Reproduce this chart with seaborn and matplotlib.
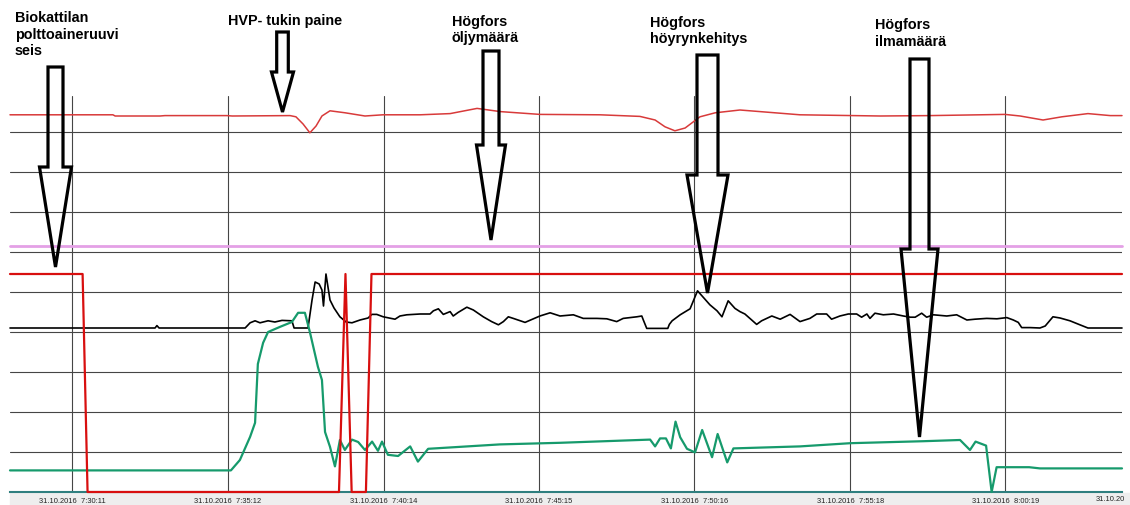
import numpy as np
import pandas as pd
import seaborn as sns
import matplotlib.pyplot as plt
from matplotlib.patches import FancyArrow, Rectangle

DAY = "2016-10-31"

# x: minutes after 07:30:00, y: trend grid divisions (0 = bottom, 9.9 = top)
paine_t = [-1.835, 1.49, 1.56, 3.01, 3.17, 5.17, 5.34, 7.21, 7.40, 7.63, 7.85, 8.05, 8.24,
           8.50, 8.99, 9.63, 10.21, 11.41, 12.38, 13.25, 14.0, 15.28, 17.22, 18.51, 19.0,
           19.32, 19.64, 19.97, 20.45, 20.94, 21.74, 22.71, 23.68, 26.27, 27.88, 30.30,
           30.79, 31.53, 32.14, 32.98, 33.70, 34.08]
paine_v = [9.43, 9.43, 9.40, 9.40, 9.41, 9.41, 9.40, 9.41, 9.38, 9.20, 8.98, 9.15, 9.40,
           9.53, 9.48, 9.40, 9.43, 9.43, 9.46, 9.59, 9.51, 9.44, 9.43, 9.39, 9.30,
           9.13, 9.03, 9.10, 9.38, 9.48, 9.55, 9.49, 9.43, 9.40, 9.41, 9.44,
           9.40, 9.30, 9.38, 9.46, 9.41, 9.41]

oljy_t = [-1.835, 34.08]
oljy_v = [6.14, 6.14]

ruuvi_t = [-1.835, 0.51, 0.67, 8.79, 9.00, 9.20, 9.66, 9.84, 34.08]
ruuvi_v = [5.45, 5.45, 0, 0, 5.45, 0, 0, 5.45, 5.45]

hoyry_t = [-1.835, 2.85, 2.91, 2.98, 5.76, 5.92, 6.08, 6.24, 6.50, 6.72, 6.95, 7.27, 7.34,
           7.79, 7.92, 8.02, 8.15, 8.24, 8.29, 8.37, 8.50, 8.63, 8.82, 9.02, 9.21, 9.47, 9.73,
           9.85, 10.01, 10.22, 10.60, 10.76, 10.98, 11.41, 11.73, 11.84, 12.00,
           12.16, 12.38, 12.48, 12.64, 12.92, 13.13, 13.45, 13.72, 13.94, 14.10,
           14.26, 14.42, 14.80, 15.07, 15.28, 15.61, 15.93, 16.36, 16.68, 17.12,
           17.44, 17.76, 17.97, 18.41, 18.57, 18.62, 18.73, 19.41, 19.46,
           19.55, 19.81, 20.13, 20.37, 20.77, 21.00, 21.16, 21.36,
           21.58, 21.74, 21.90, 22.12, 22.28, 22.44, 22.77, 23.04, 23.36, 23.68,
           24.00, 24.22, 24.54, 24.70, 24.97, 25.24, 25.51, 25.67, 25.84, 25.94,
           26.10, 26.37, 26.70, 27.02, 27.24, 27.40, 27.61, 27.77, 27.99, 28.42,
           28.74, 29.07, 29.33, 29.71, 30.04, 30.36, 30.57, 30.73, 30.84, 31.11,
           31.43, 31.60, 31.85, 32.08, 32.40, 32.72, 32.98, 34.08]
hoyry_v = [4.10, 4.10, 4.16, 4.10, 4.10, 4.23, 4.28, 4.23, 4.28, 4.25, 4.29, 4.28, 4.10,
           4.10, 4.80, 5.25, 5.20, 5.05, 4.65, 5.45, 4.80, 4.60, 4.38, 4.25, 4.23, 4.30, 4.35,
           4.44, 4.44, 4.38, 4.32, 4.40, 4.43, 4.45, 4.45, 4.53, 4.58,
           4.44, 4.51, 4.40, 4.49, 4.62, 4.55, 4.38, 4.26, 4.18, 4.26,
           4.38, 4.34, 4.24, 4.33, 4.40, 4.48, 4.40, 4.43, 4.34, 4.34,
           4.33, 4.26, 4.34, 4.38, 4.40, 4.30, 4.09, 4.09, 4.19,
           4.28, 4.43, 4.58, 5.03, 4.68, 4.53, 4.38, 4.78,
           4.59, 4.51, 4.45, 4.30, 4.19, 4.28, 4.40, 4.32, 4.44, 4.26,
           4.34, 4.45, 4.45, 4.32, 4.40, 4.45, 4.45, 4.37, 4.45, 4.34,
           4.47, 4.43, 4.45, 4.40, 4.37, 4.37, 4.47, 4.37, 4.43, 4.40,
           4.43, 4.30, 4.32, 4.34, 4.33, 4.36, 4.30, 4.24, 4.11, 4.11,
           4.10, 4.15, 4.38, 4.35, 4.28, 4.18, 4.10, 4.10]

ilma_t = [-1.835, 5.30, 5.59, 5.92, 6.08, 6.17, 6.34, 6.50, 6.89, 7.27, 7.47, 7.69, 7.85,
          8.11, 8.24, 8.34, 8.50, 8.66, 8.82, 8.98, 9.21, 9.41, 9.63, 9.86, 10.05, 10.18,
          10.37, 10.70, 11.09, 11.34, 11.67, 13.99, 15.93, 18.84, 19.00, 19.16, 19.35,
          19.51, 19.66, 19.81, 20.03, 20.29, 20.52, 20.84, 21.02, 21.33, 21.53, 23.68,
          25.30, 27.67, 28.85, 29.17, 29.35, 29.69, 29.87, 30.03, 31.08, 31.43, 34.08]
ilma_v = [0.54, 0.54, 0.80, 1.38, 1.73, 3.20, 3.73, 4.00, 4.13, 4.25, 4.48, 4.48, 4.00,
          3.13, 2.80, 1.50, 1.13, 0.64, 1.30, 1.05, 1.31, 1.25, 1.05, 1.26, 1.03, 1.26,
          0.93, 0.90, 1.14, 0.76, 1.08, 1.19, 1.23, 1.31, 1.14, 1.34, 1.34,
          1.09, 1.76, 1.37, 1.08, 0.99, 1.55, 0.87, 1.45, 0.74, 1.09, 1.14,
          1.22, 1.27, 1.30, 1.05, 1.26, 1.16, 0.0, 0.62, 0.62, 0.59, 0.59]

tick_times = ["07:30:11", "07:35:12", "07:40:14", "07:45:15", "07:50:16", "07:55:18", "08:00:19"]
last_label = "31.10.20"   # next label, cut at the window edge
x_start, x_end = -1.835, 34.08

notes = ["Biokattilan\npolttoaineruuvi\nseis", "HVP- tukin paine",
         "Högfors\nöljymäärä", "Högfors\nhöyrynkehitys", "Högfors\nilmamäärä"]


def to_time(minutes):
    return pd.Timestamp(f"{DAY} 07:30:00") + pd.to_timedelta(minutes, unit="min")


def trend(ax, t, v, color, lw):
    df = pd.DataFrame({"aika": to_time(np.asarray(t, dtype=float)), "arvo": v})
    sns.lineplot(data=df, x="aika", y="arvo", ax=ax, color=color, lw=lw,
                 estimator=None, sort=False, clip_on=False, zorder=3)


sns.set_style("white")
plt.rcParams["font.family"] = ["Liberation Sans", "DejaVu Sans"]

fig = plt.figure(figsize=(11.3, 5.05), dpi=100)
W, H = 1130, 505

# grey band under the time axis
fig.patches.append(Rectangle((10 / W, 0), 1 - 10 / W, 12 / H, transform=fig.transFigure,
                             color="#eeeeee", zorder=-1))

ax = fig.add_axes([10 / W, 13 / H, 1112 / W, 396 / H])
trend(ax, oljy_t, oljy_v, "#e4a0e6", 2.0)
trend(ax, paine_t, paine_v, "#d83a3a", 1.1)
trend(ax, hoyry_t, hoyry_v, "black", 1.2)
trend(ax, ilma_t, ilma_v, "#169a6c", 1.6)
trend(ax, ruuvi_t, ruuvi_v, "#d80f0f", 1.6)

major = pd.to_datetime([f"{DAY} {s}" for s in tick_times])
ax.set_xticks(major, [f"31.10.2016  {s.lstrip('0')}" for s in tick_times])
step = (major[1:] - major[:-1]).mean() / 4
minor = [major[0] - step * k for k in range(1, 4)]
for a in major:
    minor += [a + step * k for k in range(1, 4)]
ax.set_xticks(minor, minor=True)
ax.set_yticks(range(1, 10))

# limits after the ticks, set_xticks widens the view otherwise
ax.set_xlim(to_time(x_start), to_time(x_end))
ax.set_ylim(0, 9.9)
ax.set_xlabel("")
ax.set_ylabel("")

ax.tick_params(axis="x", which="major", length=0, pad=4, labelsize=5.4, labelcolor="#222222")
ax.tick_params(axis="x", which="minor", direction="in", length=2.5, width=0.8, color="#555555")
ax.tick_params(axis="y", length=0, labelleft=False)
ax.grid(True, which="major", color="#454545", lw=0.8)
ax.set_axisbelow(True)
for s in ["left", "top", "right"]:
    ax.spines[s].set_visible(False)
ax.spines["bottom"].set_color("#2f7f7f")
ax.spines["bottom"].set_linewidth(1.5)

# annotation layer in pixel units
ann = fig.add_axes([0, 0, 1, 1], zorder=5)
ann.set_xlim(0, W)
ann.set_ylim(H, 0)
ann.axis("off")

# x, top, tip, shaft width, head width, head length
arrows = [(55.5, 67, 267, 15, 32, 100),
          (282.5, 32, 112, 11.6, 22, 40),
          (491, 51, 240, 16, 29, 95),
          (707.5, 55, 293, 21, 41, 118),
          (919.5, 59, 437, 19, 37, 188)]
for x, top, tip, w, hw, hl in arrows:
    ann.add_patch(FancyArrow(x, top, 0, tip - top, width=w, head_width=hw, head_length=hl,
                             length_includes_head=True, fill=False, ec="black", lw=2.3,
                             joinstyle="miter"))

note_pos = [(15, 11.5), (228, 14), (452, 15), (650, 16), (875, 18.3)]
for txt, (x, y) in zip(notes, note_pos):
    ann.text(x, y, txt, ha="left", va="top", fontsize=10.4, fontweight="bold", color="black")

ann.text(1096, 499.5, last_label, ha="left", va="center", fontsize=5.4, color="#222222")

fig.savefig("out.png", dpi=100)
